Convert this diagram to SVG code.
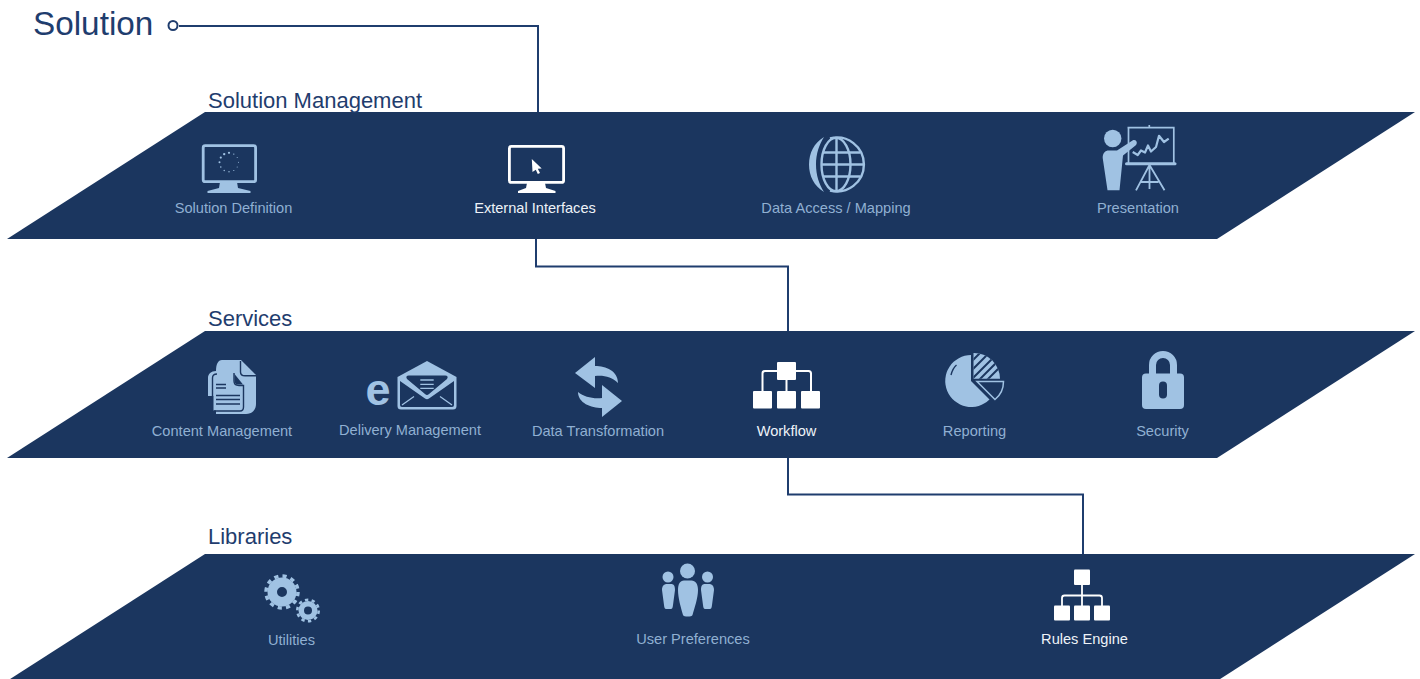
<svg xmlns="http://www.w3.org/2000/svg" width="1420" height="679" viewBox="0 0 1420 679">
<style>
text{font-family:"Liberation Sans",Arial,sans-serif}
.plane{fill:#1b365f}
.title{font-size:22px;fill:#1f3d6e}
.lab{font-size:14.6px;fill:#90b0d2;text-anchor:middle}
.wlab{font-size:14.6px;fill:#eef3f8;text-anchor:middle}
.f{fill:#a0c2e3}
.w{fill:#fff}
.d{fill:#1b365f}
.sl{fill:none;stroke:#a0c2e3;stroke-width:2.8;stroke-linejoin:round}
.sw{fill:none;stroke:#fff;stroke-width:2.8;stroke-linejoin:round}
.l{fill:none;stroke:#a0c2e3}
.dl{fill:none;stroke:#1b365f;stroke-width:1.4}
.conn{fill:none;stroke:#1f3d6e;stroke-width:2}
</style>
<defs>
<clipPath id="hatch"><path d="M973.500,353A26,26,0,0,1,1000,378.700H973.500Z"/></clipPath>
</defs>
<rect width="1420" height="679" fill="#fff"/>
<g id="plane-solution-management"><polygon class="plane" points="205,112 1415,112 1217,239 7,239"/><text class="title" x="208" y="108">Solution Management</text></g>
<g id="plane-services"><polygon class="plane" points="205,331 1415,331 1217,458 7,458"/><text class="title" x="208" y="326">Services</text></g>
<g id="plane-libraries"><polygon class="plane" points="205,554 1415,554 1217,681 7,681"/><text class="title" x="208" y="544">Libraries</text></g>
<g id="connectors">
<path class="conn" d="M179,26H538V112"/>
<path class="conn" d="M536,239V266.500H788V331"/>
<path class="conn" d="M788,458V494.500H1083V554"/>
</g>
<g id="solution"><text x="33" y="35" font-size="33.300" fill="#1f3d6e">Solution</text><circle cx="173" cy="25.500" r="4.500" fill="#fff" stroke="#1f3d6e" stroke-width="2"/></g>
<g id="solution-definition">
<rect class="sl" x="203.200" y="145.700" width="52.400" height="36" rx="2"/>
<path class="f" d="M220,182H237L238,188L250.500,191V193H207.500V191L219,188Z"/>
<g class="f"><circle cx="229" cy="152.800" r="1.100"/><circle cx="233.800" cy="154.100" r=".7"/><circle cx="237.200" cy="157.600" r=".5"/><circle cx="238.500" cy="162.300" r=".5"/><circle cx="237.200" cy="167" r=".5"/><circle cx="233.800" cy="170.500" r=".6"/><circle cx="229" cy="171.800" r=".7"/><circle cx="224.200" cy="170.500" r=".7"/><circle cx="220.800" cy="167" r=".8"/><circle cx="219.500" cy="162.300" r="1"/><circle cx="220.800" cy="157.600" r="1.100"/><circle cx="224.200" cy="154.100" r="1.200"/></g>
<text class="lab" x="233.500" y="213">Solution Definition</text></g>
<g id="external-interfaces">
<rect class="sw" x="509.400" y="146.400" width="54.200" height="36" rx="2"/>
<path class="w" d="M527,183H545L546,188L555.500,191V193H518V191L526,188Z"/>
<path class="w" d="M531.800,159L541.700,168.500L537.800,168.800L540,173L537.800,174L535.800,169.800L532.500,172Z"/>
<text class="wlab" x="535" y="213">External Interfaces</text></g>
<g id="data-access-mapping">
<path class="f" d="M824,137C814,143 809,153 809,164.500C809,176 814,186 824,192C819,184 816,175 816,164.500C816,154 819,145 824,137Z"/>
<g class="l" stroke-width="2.400">
<path d="M830,138.400A27,27,0,1,1,830,190.600"/>
<ellipse cx="836" cy="164.500" rx="14.500" ry="26.600"/>
<path d="M836.500,138V191M821.500,164.500H863.500"/>
<path d="M823,152.500H860.500M823,176.500H860.500"/>
</g>
<text class="lab" x="836" y="213">Data Access / Mapping</text></g>
<g id="presentation">
<circle class="f" cx="1112.700" cy="138.500" r="8.700"/>
<path class="f" d="M1102.700,158C1102.700,153 1105,150.500 1109,150.500H1117L1132.500,140.500C1136,138.500 1138.500,143 1135.500,145.500L1123,155.500L1119.500,190.300H1107.500Z"/>
<path class="l" stroke-width="1.700" d="M1128.500,163V127.700H1173.800V163M1127.500,127.700H1174.500M1149.300,125V127.700"/>
<path class="l" stroke-width="2.200" stroke-linejoin="round" d="M1132.700,152L1137.700,155L1141,150.500L1145,152.500L1148,145.500L1151,151.500L1156,147L1159,135.800L1164,142L1168.700,138.700"/>
<path class="l" stroke-width="3" stroke-linecap="round" d="M1126.500,163.700H1175"/>
<path class="l" stroke-width="1.800" d="M1149.500,165L1136,190.300M1149.500,165L1164.500,190.300M1149.500,165V189M1141,182H1158.500"/>
<text class="lab" x="1138" y="213">Presentation</text></g>
<g id="content-management">
<path class="f" d="M216,371C216,364 218,360 222,360H241L256,375V404C256,410 252,414 246,414H216V410.500H213.500V396H208V378C208,374 211,371 216,371Z"/>
<path class="dl" d="M212.500,396V378C212.500,375.500 214,374 217,374"/>
<path class="dl" d="M240.500,361V372C240.500,374.500 242,375.800 245,375.800H256"/>
<path class="dl" d="M234,373V381C234,384 236,385.500 239,385.500H243.500V407C243.500,409.500 242,411 240,411H214"/>
<path class="d" d="M234.500,374L243,384.500H237C235,384 234.500,382 234.500,380Z"/>
<path class="dl" d="M216,384.500H226M216,388H226M216,395.500H240M216,399.500H240M216,404H240"/>
<text class="lab" x="222" y="436">Content Management</text></g>
<g id="delivery-management">
<text x="365.500" y="405" font-size="45" font-weight="700" fill="#a0c2e3">e</text>
<path class="f" d="M427,361L456.500,377V406Q456.500,409.500 453,409.500H401Q397.500,409.500 397.500,406V377Z"/>
<path class="d" d="M400,381L425,398.500Q427,400 429,398.500L454,381V405Q454,407 452,407H402Q400,407 400,405Z"/>
<path class="d" d="M409,375.500H445Q449,375.500 447,379L429,394Q427,396 425,394L407,379Q405,375.500 409,375.500Z"/>
<path class="l" stroke-width="1.300" d="M420.300,380H433.700M420.300,384.300H433.700M420.300,388.300H433.700M402,405L414,396.500M452,405L440,396.500"/>
<text class="lab" x="410" y="435">Delivery Management</text></g>
<g id="data-transformation">
<path class="f" d="M575,373L595,357V366C606,366 618,371 618,383C612,377 604,375 595,376V388Z"/>
<path class="f" d="M622,401L602,417V408C591,408 578,403 578,392C584,397 593,399 602,398V385Z"/>
<text class="lab" x="598" y="436">Data Transformation</text></g>
<g id="workflow">
<path d="M762.500,392V373.500C762.500,372 763.500,371 765,371H808.500C810,371 811,372 811,373.500V392M786.500,378V392" fill="none" stroke="#fff" stroke-width="2"/>
<rect class="w" x="777" y="362" width="19" height="18" rx="1"/>
<rect class="w" x="753" y="391" width="19" height="17.500" rx="1"/>
<rect class="w" x="777" y="391" width="19" height="17.500" rx="1"/>
<rect class="w" x="801" y="391" width="19" height="17.500" rx="1"/>
<text class="wlab" x="786.500" y="436">Workflow</text></g>
<g id="reporting">
<path class="f" d="M971,355V381L989.500,399.500A26,26,0,1,1,971,355Z"/>
<path d="M951,375C952,371 953.500,367.500 956.500,365" stroke="#1b365f" stroke-width="1.400" fill="none"/>
<path class="f" d="M973.500,353A26,26,0,0,1,1000,378.700H973.500Z"/>
<g clip-path="url(#hatch)"><path d="M968,365L984,349M968,374L993,349M970,381L999,352M978,381L1003,356M986,381L1007,360" stroke="#1b365f" stroke-width="2" fill="none"/></g>
<path class="l" stroke-width="1.500" d="M977,381.500H1003.500C1003.500,389 1000,395.500 995,399.500Z"/>
<text class="lab" x="974.500" y="436">Reporting</text></g>
<g id="security">
<path class="l" stroke-width="7" d="M1152.500,376V365A10.500,10.500,0,0,1,1173.500,365V376"/>
<rect class="f" x="1142" y="373.500" width="42" height="35.500" rx="4"/>
<rect class="d" x="1159" y="381.500" width="8" height="17" rx="4"/>
<text class="lab" x="1162.500" y="436">Security</text></g>
<g id="utilities">
<circle class="l" cx="282" cy="592" r="9.750" stroke-width="9.500"/>
<circle class="l" cx="282" cy="592" r="16" stroke-width="3.500" stroke-dasharray="4.190 4.190"/>
<circle class="l" cx="308" cy="610.500" r="6.750" stroke-width="5.500"/>
<circle class="l" cx="308" cy="610.500" r="10.700" stroke-width="2.600" stroke-dasharray="3.360 3.360"/>
<text class="lab" x="291.500" y="645">Utilities</text></g>
<g id="user-preferences">
<circle class="f" cx="687.500" cy="571" r="7.500"/>
<path class="f" d="M678,590C678,584 680,580.500 684,580.500H691.500C695.500,580.500 698,584 698,590C698,598 694.500,608 692.500,615C692,617 683.500,617 683,615C681,608 678,598 678,590Z"/>
<circle class="f" cx="668" cy="577" r="5.500"/>
<path class="f" d="M662,590C662,586 664,584 667,584H671C674,584 675,586 675,590L673,605C672.700,608 672,609 671,609H666C665,609 664.300,608 664,605Z"/>
<circle class="f" cx="707.500" cy="577" r="5.500"/>
<path class="f" d="M714,590C714,586 712,584 709,584H705C702,584 701,586 701,590L703,605C703.300,608 704,609 705,609H710C711,609 711.700,608 712,605Z"/>
<text class="lab" x="693" y="644">User Preferences</text></g>
<g id="rules-engine">
<path d="M1062,606V598C1062,596.500 1063,595.500 1064.500,595.500H1099.500C1101,595.500 1102,596.500 1102,598V606M1082,585V606" fill="none" stroke="#fff" stroke-width="1.800"/>
<rect class="w" x="1074" y="569.500" width="16" height="15.500" rx="1"/>
<rect class="w" x="1054" y="605.500" width="16" height="15" rx="1"/>
<rect class="w" x="1074" y="605.500" width="16" height="15" rx="1"/>
<rect class="w" x="1094" y="605.500" width="16" height="15" rx="1"/>
<text class="wlab" x="1084.500" y="644">Rules Engine</text></g>
</svg>
